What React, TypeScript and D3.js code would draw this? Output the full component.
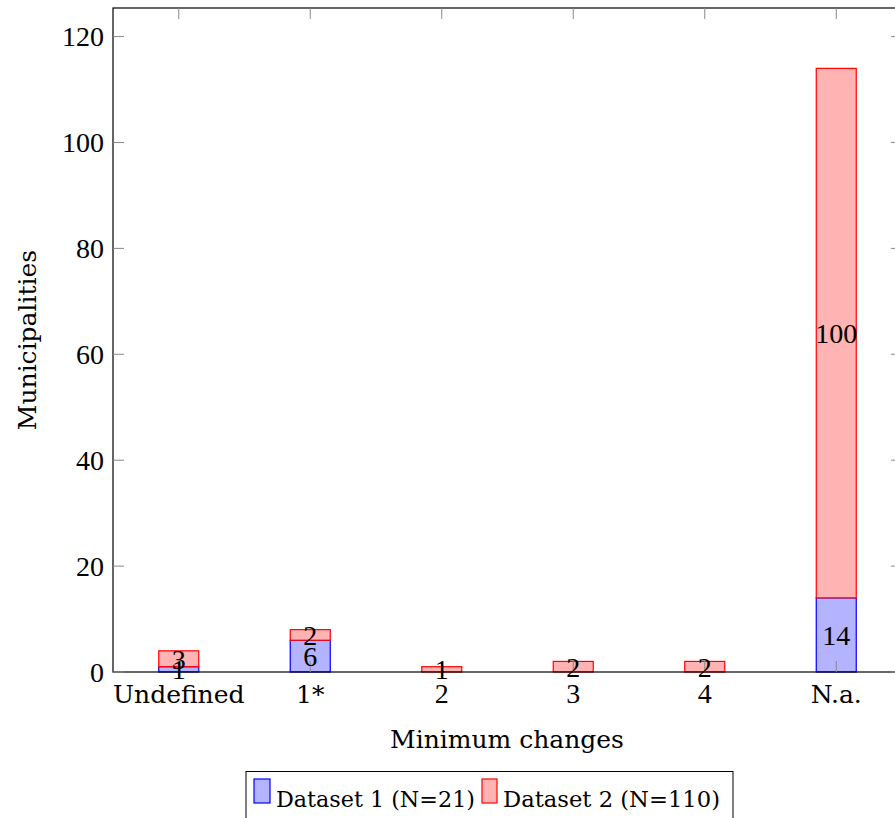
import * as d3 from "d3";

const categories = ["Undefined", "1*", "2", "3", "4", "N.a."];
const dataset1 = [1, 6, 0, 0, 0, 14];
const dataset2 = [3, 2, 1, 2, 2, 100];
const seriesNames = ["Dataset 1 (N=21)", "Dataset 2 (N=110)"];
const yTicks = [0, 20, 40, 60, 80, 100, 120];

const textFont = "DejaVu Serif";
const numFont = "Liberation Serif";

export default function App() {
  const width = 895;
  const height = 818;
  const left = 113;
  const right = 902;
  const top = 8;
  const bottom = 672;

  const x = d3.scaleLinear().domain([-0.5, categories.length - 0.5]).range([left, right]);
  const y = d3.scaleLinear().domain([0, 125.4]).range([bottom, top]);
  const barW = 40;

  const rows = categories.map((c, i) => ({ cat: c, d1: dataset1[i], d2: dataset2[i] }));
  const stacked = d3.stack<any>().keys(["d1", "d2"])(rows);
  const fills = ["#b3b3ff", "#ffb3b3"];
  const strokes = ["#0000ff", "#ff0000"];

  return (
    <svg width={width} height={height} style={{ position: "absolute", left: 0, top: 0 }}>
      <rect x={0} y={0} width={width} height={height} fill="white" />
      {stacked.map((s, k) =>
        s.map((d, i) =>
          d[1] - d[0] > 0 ? (
            <rect
              key={k + "-" + i}
              x={x(i) - barW / 2}
              y={y(d[1])}
              width={barW}
              height={y(d[0]) - y(d[1])}
              fill={fills[k]}
              stroke={strokes[k]}
              strokeWidth={1.2}
            />
          ) : null
        )
      )}
      {/* axis frame */}
      <rect x={left} y={top} width={right - left} height={bottom - top} fill="none" stroke="black" strokeWidth={1.2} />
      {yTicks.map((t) => (
        <g key={"y" + t}>
          <line x1={left} x2={left + 11} y1={y(t)} y2={y(t)} stroke="#888" strokeWidth={1} />
          <line x1={right} x2={right - 11} y1={y(t)} y2={y(t)} stroke="#888" strokeWidth={1} />
          <text x={left - 9} y={y(t)} dy="0.35em" textAnchor="end" fontFamily={numFont} fontSize={28}>
            {t}
          </text>
        </g>
      ))}
      {categories.map((c, i) => (
        <g key={"x" + i}>
          <line x1={x(i)} x2={x(i)} y1={bottom} y2={bottom - 11} stroke="#888" strokeWidth={1} />
          <line x1={x(i)} x2={x(i)} y1={top} y2={top + 11} stroke="#888" strokeWidth={1} />
          <text
            x={x(i)}
            y={703}
            textAnchor="middle"
            fontFamily={/^\d$/.test(c) ? numFont : textFont}
            fontSize={/^\d$/.test(c) ? 28 : 25}
          >
            {c}
          </text>
        </g>
      ))}
      {/* value labels (overlap in small bars, as in the original) */}
      {stacked.map((s, k) =>
        s.map((d, i) =>
          d[1] - d[0] > 0 ? (
            <text
              key={"v" + k + "-" + i}
              x={x(i)}
              y={y((d[0] + d[1]) / 2)}
              dy="0.35em"
              textAnchor="middle"
              fontFamily={numFont}
              fontSize={28}
            >
              {d[1] - d[0]}
            </text>
          ) : null
        )
      )}
      <text x={507} y={748} textAnchor="middle" fontFamily={textFont} fontSize={25}>
        Minimum changes
      </text>
      <text
        transform={`translate(36,${(top + bottom) / 2}) rotate(-90)`}
        textAnchor="middle"
        fontFamily={textFont}
        fontSize={25}
      >
        Municipalities
      </text>
      {/* legend */}
      <rect x={246} y={771.5} width={487} height={60} fill="white" stroke="black" strokeWidth={1} />
      <rect x={254} y={779} width={16} height={24} fill={fills[0]} stroke={strokes[0]} strokeWidth={1.2} />
      <text x={276} y={807} fontFamily={textFont} fontSize={23} textLength={199} lengthAdjust="spacingAndGlyphs">
        {seriesNames[0]}
      </text>
      <rect x={482} y={779} width={15} height={24} fill={fills[1]} stroke={strokes[1]} strokeWidth={1.2} />
      <text x={503} y={807} fontFamily={textFont} fontSize={23} textLength={217} lengthAdjust="spacingAndGlyphs">
        {seriesNames[1]}
      </text>
    </svg>
  );
}
